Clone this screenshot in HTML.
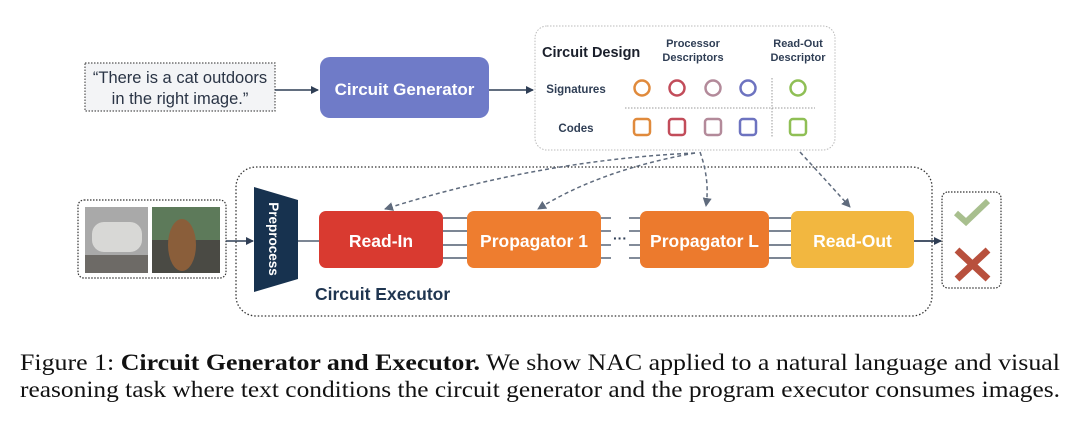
<!DOCTYPE html>
<html><head><meta charset="utf-8"><style>
html,body{margin:0;padding:0;background:#fff;width:1080px;height:428px;overflow:hidden}
svg text{font-family:"Liberation Sans",sans-serif}
svg text.cap{font-family:"Liberation Serif",serif}
</style></head><body>
<svg width="1080" height="428" viewBox="0 0 1080 428" xmlns="http://www.w3.org/2000/svg">
<defs>
<marker id="ah" markerWidth="8" markerHeight="8" refX="7" refY="4" orient="auto" markerUnits="userSpaceOnUse"><path d="M0,0 L8,4 L0,8 z" fill="#2f3e55"/></marker>
<marker id="ag" markerWidth="9" markerHeight="9" refX="8" refY="4.5" orient="auto" markerUnits="userSpaceOnUse"><path d="M0,0 L9,4.5 L0,9 z" fill="#5f6b7d"/></marker>
</defs>
<rect x="85" y="63" width="190" height="48" fill="#f3f4f6" stroke="#555" stroke-width="1.2" stroke-dasharray="1.5,1.5"/>
<text x="180" y="83" text-anchor="middle" font-size="16.5" fill="#2a3445">“There is a cat outdoors</text>
<text x="180" y="104" text-anchor="middle" font-size="16.5" fill="#2a3445">in the right image.”</text>
<line x1="275" y1="90" x2="318" y2="90" stroke="#2f3e55" stroke-width="1.5" marker-end="url(#ah)"/>
<rect x="320" y="57" width="169" height="61" rx="10" fill="#6f7bc8"/>
<text x="404.5" y="95" text-anchor="middle" font-size="17" font-weight="bold" fill="#fff">Circuit Generator</text>
<line x1="489" y1="90" x2="533" y2="90" stroke="#2f3e55" stroke-width="1.5" marker-end="url(#ah)"/>
<rect x="535" y="26" width="300" height="124" rx="12" fill="#fff" stroke="#bbb" stroke-width="1" stroke-dasharray="1.5,1.5"/>
<text x="542" y="57" font-size="14.5" font-weight="bold" fill="#1a1f2b">Circuit Design</text>
<text x="693" y="47" text-anchor="middle" font-size="11" font-weight="bold" fill="#2f3e55">Processor</text>
<text x="693" y="61" text-anchor="middle" font-size="11" font-weight="bold" fill="#2f3e55">Descriptors</text>
<text x="798" y="47" text-anchor="middle" font-size="11" font-weight="bold" fill="#2f3e55">Read-Out</text>
<text x="798" y="61" text-anchor="middle" font-size="11" font-weight="bold" fill="#2f3e55">Descriptor</text>
<text x="576" y="93" text-anchor="middle" font-size="11.5" font-weight="bold" fill="#2f3e55">Signatures</text>
<text x="576" y="132" text-anchor="middle" font-size="11.5" font-weight="bold" fill="#2f3e55">Codes</text>
<line x1="625" y1="108" x2="815" y2="108" stroke="#999" stroke-dasharray="1.5,1.5"/>
<line x1="772" y1="78" x2="772" y2="138" stroke="#999" stroke-dasharray="1.5,1.5"/>
<g fill="none" stroke-width="2.5">
<circle cx="642" cy="88" r="7.5" stroke="#e08a3c"/><circle cx="677" cy="88" r="7.5" stroke="#c24c5a"/>
<circle cx="713" cy="88" r="7.5" stroke="#b38a9a"/><circle cx="748" cy="88" r="7.5" stroke="#6d73c0"/>
<circle cx="798" cy="88" r="7.5" stroke="#8fbf55"/>
<rect x="634" y="119" width="16" height="16" rx="3" stroke="#e08a3c"/><rect x="669" y="119" width="16" height="16" rx="3" stroke="#c24c5a"/>
<rect x="705" y="119" width="16" height="16" rx="3" stroke="#b38a9a"/><rect x="740" y="119" width="16" height="16" rx="3" stroke="#6d73c0"/>
<rect x="790" y="119" width="16" height="16" rx="3" stroke="#8fbf55"/>
</g>
<rect x="236" y="167" width="696" height="149" rx="20" fill="none" stroke="#333" stroke-width="1.3" stroke-dasharray="1.5,2"/>
<g fill="none" stroke="#5f6b7d" stroke-width="1.5" stroke-dasharray="4,3">
<path d="M695,153 Q540,160 385,209" marker-end="url(#ag)"/>
<path d="M695,153 Q600,170 538,209" marker-end="url(#ag)"/>
<path d="M700,152 Q710,180 706,206" marker-end="url(#ag)"/>
<path d="M800,152 Q830,185 850,207" marker-end="url(#ag)"/>
</g>
<rect x="78" y="200" width="148" height="78" rx="6" fill="#fff" stroke="#333" stroke-width="1.2" stroke-dasharray="1.5,1.5"/>
<rect x="85" y="207" width="63" height="66" fill="#a9a9a9"/>
<rect x="92" y="222" width="50" height="30" rx="12" fill="#d8d8d6"/>
<rect x="85" y="255" width="63" height="18" fill="#6d6a66"/>
<rect x="152" y="207" width="68" height="66" fill="#5d7a5a"/>
<rect x="152" y="240" width="68" height="33" fill="#4a4a44"/>
<ellipse cx="182" cy="245" rx="14" ry="26" fill="#8a5e3a"/>
<line x1="226" y1="241" x2="253" y2="241" stroke="#2f3e55" stroke-width="1.5" marker-end="url(#ah)"/>
<path d="M254,187 L298,200 L298,279 L254,292 Z" fill="#17324f"/>
<text transform="translate(269,239) rotate(90)" text-anchor="middle" font-size="13.5" font-weight="bold" fill="#fff">Preprocess</text>
<line x1="298" y1="241" x2="319" y2="241" stroke="#2f3e55" stroke-width="1.3"/>
<g stroke="#2f3e55" stroke-width="1.2">
<line x1="443" y1="218" x2="467" y2="218"/><line x1="443" y1="231" x2="467" y2="231"/><line x1="443" y1="245" x2="467" y2="245"/><line x1="443" y1="258" x2="467" y2="258"/>
<line x1="601" y1="218" x2="611" y2="218"/><line x1="601" y1="231" x2="611" y2="231"/><line x1="601" y1="245" x2="611" y2="245"/><line x1="601" y1="258" x2="611" y2="258"/>
<line x1="629" y1="218" x2="640" y2="218"/><line x1="629" y1="231" x2="640" y2="231"/><line x1="629" y1="245" x2="640" y2="245"/><line x1="629" y1="258" x2="640" y2="258"/>
<line x1="769" y1="218" x2="791" y2="218"/><line x1="769" y1="231" x2="791" y2="231"/><line x1="769" y1="245" x2="791" y2="245"/><line x1="769" y1="258" x2="791" y2="258"/>
</g>
<text x="620" y="243" text-anchor="middle" font-size="14" font-weight="bold" fill="#2f3e55">···</text>
<rect x="319" y="211" width="124" height="57" rx="7" fill="#d93a30"/>
<text x="381" y="247" text-anchor="middle" font-size="17.5" font-weight="bold" fill="#fff">Read-In</text>
<rect x="467" y="211" width="134" height="57" rx="7" fill="#ee7d2f"/>
<text x="534" y="247" text-anchor="middle" font-size="17.5" font-weight="bold" fill="#fff">Propagator 1</text>
<rect x="640" y="211" width="129" height="57" rx="7" fill="#ec7a2d"/>
<text x="704.5" y="247" text-anchor="middle" font-size="17.5" font-weight="bold" fill="#fff">Propagator L</text>
<rect x="791" y="211" width="123" height="57" rx="7" fill="#f2b740"/>
<text x="852.5" y="247" text-anchor="middle" font-size="17.5" font-weight="bold" fill="#fff">Read-Out</text>
<text x="315" y="300" font-size="17.5" font-weight="bold" fill="#1f3550">Circuit Executor</text>
<line x1="914" y1="241" x2="941" y2="241" stroke="#2f3e55" stroke-width="1.8" marker-end="url(#ah)"/>
<rect x="942" y="192" width="59" height="96" rx="6" fill="#fff" stroke="#333" stroke-width="1.2" stroke-dasharray="1.5,1.5"/>
<path d="M956,213 L966,222 L988,201" fill="none" stroke="#a8bf8e" stroke-width="6"/>
<path d="M957,250 L988,279 M988,250 L957,279" stroke="#b8503d" stroke-width="7"/>
<text class="cap" x="20" y="370" font-size="23" fill="#111" textLength="1040" lengthAdjust="spacingAndGlyphs">Figure 1: <tspan font-weight="bold">Circuit Generator and Executor.</tspan> We show NAC applied to a natural language and visual</text>
<text class="cap" x="20" y="397" font-size="23" fill="#111" textLength="1040" lengthAdjust="spacingAndGlyphs">reasoning task where text conditions the circuit generator and the program executor consumes images.</text>
</svg>
</body></html>
